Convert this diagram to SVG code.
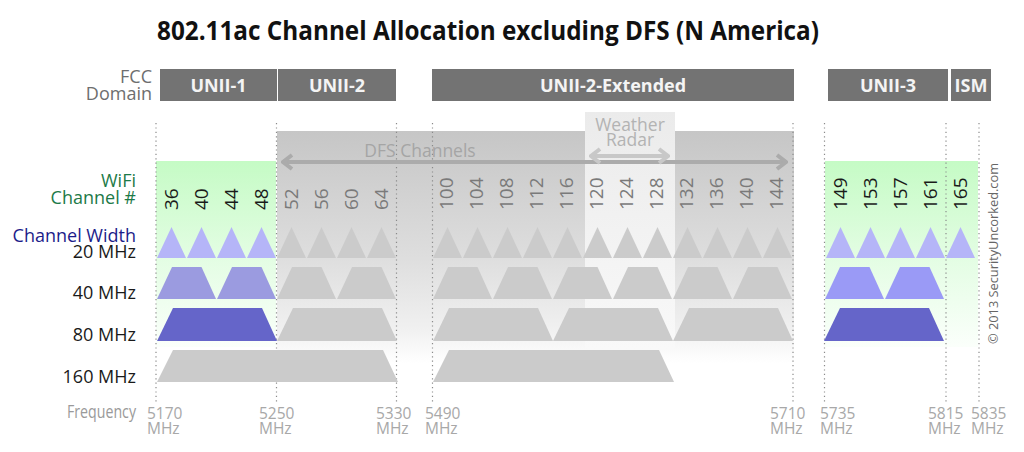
<svg xmlns="http://www.w3.org/2000/svg" xmlns:xlink="http://www.w3.org/1999/xlink" width="1024" height="452" viewBox="0 0 1024 452">
<style>
text{font-family:"Open Sans","Liberation Sans",sans-serif}
.title{font-size:27px;font-weight:bold;fill:#111}
.bar{fill:#737373}
.barlbl{font-size:18px;font-weight:bold;fill:#f4f4f4;text-anchor:middle}
.lbl{font-size:18px;text-anchor:end}
.grey{fill:#6e6e6e}
.green{fill:#1d7a48}
.navy{fill:#1c1c8a}
.blk{fill:#1a1a1a}
.freq{font-size:15.5px;fill:#a8a8a8}
.chn{font-size:19px;fill:#1a1a1a}
.chd{font-size:19px;fill:#7a7a7a}
.dot{stroke:#8a8a8a;stroke-width:1.2;stroke-dasharray:1.2 3.2;fill:none}
.b20{fill:#b5b5f8}
.b40{fill:#9b9be0}
.b40b{fill:#9a9af6}
.b80{fill:#6565c9}
.g{fill:#cbcbcb}
</style>
<defs>
<linearGradient id="grn" x1="0" y1="0" x2="0" y2="1">
<stop offset="0" stop-color="#c5fbc5"/>
<stop offset="0.5" stop-color="#e2fde2"/>
<stop offset="1" stop-color="#fbfffb"/>
</linearGradient>
<linearGradient id="dfs" x1="0" y1="0" x2="0" y2="1">
<stop offset="0" stop-color="#c6c6c6"/>
<stop offset="0.55" stop-color="#dedede"/>
<stop offset="0.85" stop-color="#f0f0f0"/>
<stop offset="1" stop-color="#ffffff"/>
</linearGradient>
<linearGradient id="wx" x1="0" y1="0" x2="0" y2="1">
<stop offset="0" stop-color="#ebebeb"/>
<stop offset="1" stop-color="#f9f9f9"/>
</linearGradient>
<path id="t20" d="M1,258 L15.5,227 L30,258 Z"/>
<path id="t40" d="M1,299 L16,267 L45.5,267 L60,299 Z"/>
<path id="t80" d="M1,341 L17,308 L106,308 L121,341 Z"/>
<path id="t160" d="M1,382 L17,350 L227,350 L242,382 Z"/>
<marker id="chevD" viewBox="-12 -10 14 20" markerUnits="userSpaceOnUse" markerWidth="14" markerHeight="20" refX="0" refY="0" orient="auto-start-reverse">
<path d="M-9,-7 L0,0 L-9,7" fill="none" stroke="#ababab" stroke-width="4"/>
</marker>
<marker id="chevW" viewBox="-12 -10 14 20" markerUnits="userSpaceOnUse" markerWidth="14" markerHeight="20" refX="0" refY="0" orient="auto-start-reverse">
<path d="M-9,-7 L0,0 L-9,7" fill="none" stroke="#c8c8c8" stroke-width="4"/>
</marker>
</defs>
<rect width="1024" height="452" fill="#ffffff"/>

<text class="title" x="488" y="40" text-anchor="middle" textLength="662" lengthAdjust="spacingAndGlyphs">802.11ac Channel Allocation excluding DFS (N America)</text>

<g id="backgrounds">
<rect x="156" y="161" width="120" height="186" fill="url(#grn)"/>
<rect x="825" y="161" width="153" height="186" fill="url(#grn)"/>
<rect x="277" y="131" width="517" height="232" fill="url(#dfs)"/>
<rect x="585" y="112" width="90" height="238" fill="url(#wx)"/>
</g>

<g id="fcc-domain">
<text class="lbl grey" x="152" y="83" font-size="16.5">FCC</text>
<text class="lbl grey" x="152" y="100" font-size="16.5">Domain</text>
<rect class="bar" x="160" y="69" width="117" height="32"/>
<text class="barlbl" x="218.5" y="92">UNII-1</text>
<rect class="bar" x="278" y="69" width="118" height="32"/>
<text class="barlbl" x="337" y="92">UNII-2</text>
<rect class="bar" x="432" y="69" width="362" height="32"/>
<text class="barlbl" x="613" y="92">UNII-2-Extended</text>
<rect class="bar" x="828" y="69" width="120" height="32"/>
<text class="barlbl" x="888" y="92">UNII-3</text>
<rect class="bar" x="951" y="69" width="40" height="32"/>
<text class="barlbl" x="971" y="92">ISM</text>
</g>

<g id="freq-lines">
<line class="dot" x1="156" y1="123" x2="156" y2="402"/>
<line class="dot" x1="276.5" y1="123" x2="276.5" y2="404"/>
<line class="dot" x1="396.5" y1="123" x2="396.5" y2="404"/>
<line class="dot" x1="432.5" y1="123" x2="432.5" y2="402"/>
<line class="dot" x1="793" y1="123" x2="793" y2="404"/>
<line class="dot" x1="824.5" y1="123" x2="824.5" y2="404"/>
<line class="dot" x1="946" y1="123" x2="946" y2="404"/>
<line class="dot" x1="979" y1="123" x2="979" y2="404"/>
</g>

<g id="connectors">
<line x1="283" y1="162" x2="786" y2="162" stroke="#ababab" stroke-width="4" marker-start="url(#chevD)" marker-end="url(#chevD)"/>
<line x1="591" y1="156" x2="668" y2="156" stroke="#c8c8c8" stroke-width="4" marker-start="url(#chevW)" marker-end="url(#chevW)"/>
</g>

<g id="dfs-label">
<text x="420" y="157" font-size="17.5" fill="#a5a5a5" text-anchor="middle">DFS Channels</text>
</g>
<g id="weather-radar">
<text x="630" y="131" font-size="17.5" fill="#b3b3b3" text-anchor="middle">Weather</text>
<text x="630" y="146" font-size="17.5" fill="#b3b3b3" text-anchor="middle">Radar</text>
</g>

<g id="row-labels">
<text class="lbl green" x="136" y="187">WiFi</text>
<text class="lbl green" x="136" y="204">Channel #</text>
<text class="lbl navy" x="136" y="242" font-size="17.5">Channel Width</text>
<text class="lbl blk" x="136" y="258">20 MHz</text>
<text class="lbl blk" x="136" y="299">40 MHz</text>
<text class="lbl blk" x="136" y="341">80 MHz</text>
<text class="lbl blk" x="136" y="383">160 MHz</text>
<text class="lbl" x="136" y="418" font-size="14" fill="#9a9a9a" textLength="69" lengthAdjust="spacingAndGlyphs">Frequency</text>
</g>

<g id="width-20">
<use href="#t20" x="156" class="b20"/><use href="#t20" x="186" class="b20"/><use href="#t20" x="216" class="b20"/><use href="#t20" x="246" class="b20"/>
<use href="#t20" x="276" class="g"/><use href="#t20" x="306" class="g"/><use href="#t20" x="336" class="g"/><use href="#t20" x="366" class="g"/>
<use href="#t20" x="432" class="g"/><use href="#t20" x="462" class="g"/><use href="#t20" x="492" class="g"/><use href="#t20" x="522" class="g"/>
<use href="#t20" x="552" class="g"/><use href="#t20" x="582" class="g"/><use href="#t20" x="612" class="g"/><use href="#t20" x="642" class="g"/>
<use href="#t20" x="672" class="g"/><use href="#t20" x="702" class="g"/><use href="#t20" x="732" class="g"/><use href="#t20" x="762" class="g"/>
<use href="#t20" x="825" class="b20"/><use href="#t20" x="855" class="b20"/><use href="#t20" x="885" class="b20"/><use href="#t20" x="915" class="b20"/>
<use href="#t20" x="945" class="b20"/>
</g>

<g id="width-40">
<use href="#t40" x="156" class="b40"/><use href="#t40" x="216" class="b40"/>
<use href="#t40" x="276" class="g"/><use href="#t40" x="336" class="g"/>
<use href="#t40" x="432" class="g"/><use href="#t40" x="492" class="g"/><use href="#t40" x="552" class="g"/>
<use href="#t40" x="612" class="g"/><use href="#t40" x="672" class="g"/><use href="#t40" x="732" class="g"/>
<use href="#t40" x="824" class="b40b"/><use href="#t40" x="884" class="b40b"/>
</g>

<g id="width-80">
<use href="#t80" x="156" class="b80"/>
<use href="#t80" x="276" class="g"/>
<use href="#t80" x="432" class="g"/><use href="#t80" x="552" class="g"/><use href="#t80" x="672" class="g"/>
<use href="#t80" x="823" class="b80"/>
</g>

<g id="width-160">
<use href="#t160" x="156" class="g"/>
<use href="#t160" x="432" class="g"/>
</g>

<g id="channel-numbers">
<text class="chn" transform="translate(178,210) rotate(-90)">36</text>
<text class="chn" transform="translate(208,210) rotate(-90)">40</text>
<text class="chn" transform="translate(238,210) rotate(-90)">44</text>
<text class="chn" transform="translate(268,210) rotate(-90)">48</text>
<text class="chd" transform="translate(298,210) rotate(-90)">52</text>
<text class="chd" transform="translate(328,210) rotate(-90)">56</text>
<text class="chd" transform="translate(358,210) rotate(-90)">60</text>
<text class="chd" transform="translate(388,210) rotate(-90)">64</text>
<text class="chd" transform="translate(453,210) rotate(-90)">100</text>
<text class="chd" transform="translate(483,210) rotate(-90)">104</text>
<text class="chd" transform="translate(513,210) rotate(-90)">108</text>
<text class="chd" transform="translate(543,210) rotate(-90)">112</text>
<text class="chd" transform="translate(573,210) rotate(-90)">116</text>
<text class="chd" transform="translate(603,210) rotate(-90)">120</text>
<text class="chd" transform="translate(633,210) rotate(-90)">124</text>
<text class="chd" transform="translate(663,210) rotate(-90)">128</text>
<text class="chd" transform="translate(693,210) rotate(-90)">132</text>
<text class="chd" transform="translate(723,210) rotate(-90)">136</text>
<text class="chd" transform="translate(753,210) rotate(-90)">140</text>
<text class="chd" transform="translate(783,210) rotate(-90)">144</text>
<text class="chn" transform="translate(847,210) rotate(-90)">149</text>
<text class="chn" transform="translate(877,210) rotate(-90)">153</text>
<text class="chn" transform="translate(907,210) rotate(-90)">157</text>
<text class="chn" transform="translate(937,210) rotate(-90)">161</text>
<text class="chn" transform="translate(967,210) rotate(-90)">165</text>
</g>

<g id="frequencies">
<text class="freq" x="147" y="419">5170</text><text class="freq" x="147" y="434">MHz</text>
<text class="freq" x="259" y="419">5250</text><text class="freq" x="259" y="434">MHz</text>
<text class="freq" x="376" y="419">5330</text><text class="freq" x="376" y="434">MHz</text>
<text class="freq" x="425" y="419">5490</text><text class="freq" x="425" y="434">MHz</text>
<text class="freq" x="770" y="419">5710</text><text class="freq" x="770" y="434">MHz</text>
<text class="freq" x="820" y="419">5735</text><text class="freq" x="820" y="434">MHz</text>
<text class="freq" x="928" y="419">5815</text><text class="freq" x="928" y="434">MHz</text>
<text class="freq" x="971" y="419">5835</text><text class="freq" x="971" y="434">MHz</text>
</g>

<g id="copyright">
<text transform="translate(998,344) rotate(-90)" font-size="13.5" fill="#666666" textLength="181" lengthAdjust="spacingAndGlyphs">© 2013 SecurityUncorked.com</text>
</g>
</svg>
